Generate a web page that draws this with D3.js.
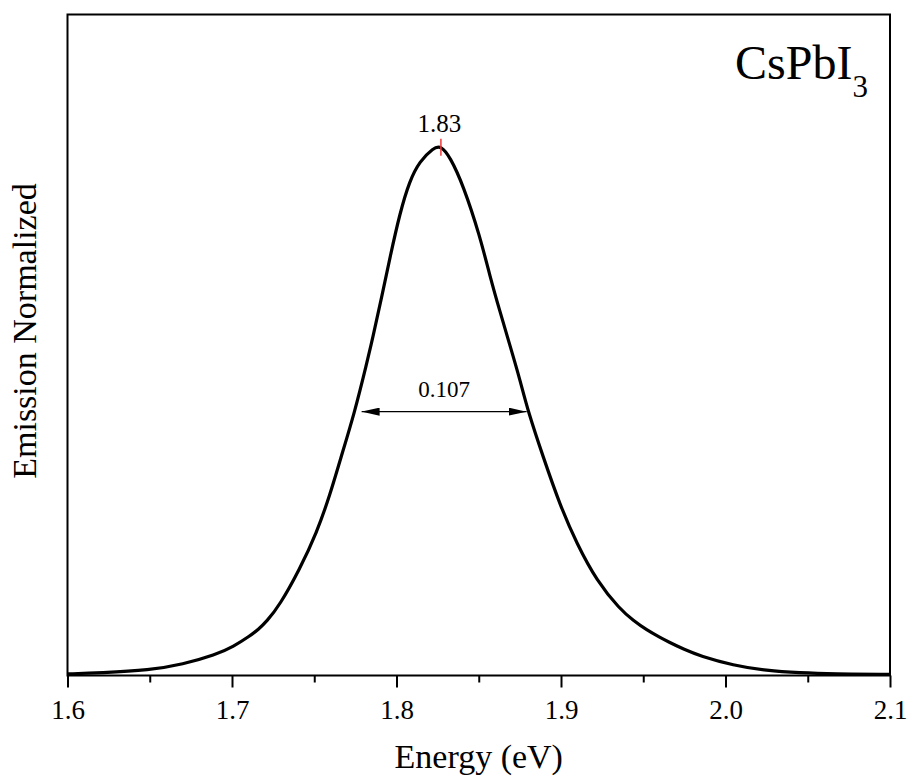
<!DOCTYPE html>
<html>
<head>
<meta charset="utf-8">
<script src="https://cdn.jsdelivr.net/npm/d3@7"></script>
<style>
    body { margin: 0; background: #fff; }
    svg text { font-family: "Liberation Serif", "Times New Roman", serif; fill: #000; }
</style>
</head>
<body>
<div id="chart"></div>
<script>
// PL spectrum (energy in eV, normalized emission)
const energy = [1.600, 1.620, 1.650, 1.670, 1.690, 1.701, 1.711, 1.716, 1.721, 1.729,
    1.741, 1.7515, 1.7596, 1.7657, 1.7746, 1.7819, 1.7859, 1.791, 1.796, 1.802,
    1.808, 1.814, 1.8224, 1.827, 1.8325, 1.8406, 1.8508, 1.8568, 1.8629, 1.869,
    1.8751, 1.8801, 1.8892, 1.8994, 1.9095, 1.9217, 1.9359, 1.944, 1.9521, 1.9602,
    1.965, 1.975, 1.9845, 2.0047, 2.025, 2.0453, 2.0655, 2.100];
const emission = [0.003, 0.005, 0.010, 0.021, 0.039, 0.055, 0.075, 0.087, 0.102, 0.133,
    0.200, 0.270, 0.342, 0.407, 0.498, 0.590, 0.643, 0.716, 0.790, 0.874,
    0.936, 0.972, 0.998, 1.002, 0.981, 0.927, 0.830, 0.755, 0.688, 0.624,
    0.559, 0.498, 0.413, 0.322, 0.250, 0.179, 0.125, 0.104, 0.086, 0.072,
    0.064, 0.049, 0.037, 0.019, 0.009, 0.005, 0.003, 0.002];

const xTicks = [1.6, 1.7, 1.8, 1.9, 2.0, 2.1];
const xMinorTicks = [1.65, 1.75, 1.85, 1.95, 2.05];

const peakEnergy = 1.827;
const peakLabel = "1.83";
const fwhm = [1.7788, 1.8791];
const fwhmLabel = "0.107";

const margin = { top: 14.5, right: 18, bottom: 102.5, left: 67.5 };
const width = 908 - margin.left - margin.right;
const height = 778 - margin.top - margin.bottom;

const svg = d3.select("#chart")
    .append("svg")
    .attr("width", 908)
    .attr("height", 778)
    .append("g")
    .attr("transform", `translate(${margin.left}, ${margin.top})`);

const x = d3.scaleLinear().domain([1.6, 2.1]).range([0, width]);
const y = d3.scaleLinear().domain([0, 1.25]).range([height, 0]);

// minor ticks
const minorAxis = svg.append("g")
    .attr("transform", `translate(0, ${height})`)
    .call(d3.axisBottom(x).tickValues(xMinorTicks).tickSize(7).tickFormat(""));
minorAxis.select(".domain").remove();
minorAxis.selectAll("line").attr("stroke", "#000").attr("stroke-width", 2);

// major ticks
const xAxis = svg.append("g")
    .attr("transform", `translate(0, ${height})`)
    .call(d3.axisBottom(x).tickValues(xTicks).tickSize(12).tickFormat(d3.format(".1f")));
xAxis.select(".domain").remove();
xAxis.selectAll("line").attr("stroke", "#000").attr("stroke-width", 2);
xAxis.selectAll("text")
    .attr("y", 43.5)
    .attr("dy", 0)
    .style("font-size", "27px");

// frame
svg.append("rect")
    .attr("width", width)
    .attr("height", height)
    .attr("fill", "none")
    .attr("stroke", "#000")
    .attr("stroke-width", 2);

// axis titles
svg.append("text")
    .attr("x", width / 2)
    .attr("y", 768 - margin.top)
    .attr("text-anchor", "middle")
    .style("font-size", "34px")
    .text("Energy (eV)");

svg.append("text")
    .attr("transform", `translate(${36 - margin.left}, ${331 - margin.top}) rotate(-90)`)
    .attr("text-anchor", "middle")
    .style("font-size", "34px")
    .text("Emission Normalized");

// spectrum
const spectrum = energy.map((e, i) => ({ e: e, v: emission[i] }));
const line = d3.line()
    .x(d => x(d.e))
    .y(d => y(d.v))
    .curve(d3.curveBasis);

svg.append("path")
    .datum(spectrum)
    .attr("d", line)
    .attr("fill", "none")
    .attr("stroke", "#000")
    .attr("stroke-width", 3.2)
    .attr("stroke-linejoin", "round");

// peak marker
svg.append("line")
    .attr("x1", x(peakEnergy)).attr("x2", x(peakEnergy))
    .attr("y1", y(1.015)).attr("y2", y(0.983))
    .attr("stroke", "#f03a3a")
    .attr("stroke-width", 1.5);

svg.append("text")
    .attr("x", x(peakEnergy) - 1.5)
    .attr("y", 131.7 - margin.top)
    .attr("text-anchor", "middle")
    .style("font-size", "25px")
    .text(peakLabel);

// FWHM arrow
const defs = svg.append("defs");
defs.append("marker")
    .attr("id", "arrowHead")
    .attr("viewBox", "0 0 18 8")
    .attr("refX", 18)
    .attr("refY", 4)
    .attr("markerUnits", "userSpaceOnUse")
    .attr("markerWidth", 18)
    .attr("markerHeight", 8)
    .attr("orient", "auto-start-reverse")
    .append("path")
    .attr("d", "M0,0L18,4L0,8Z")
    .attr("fill", "#000");

svg.append("line")
    .attr("x1", x(fwhm[0])).attr("x2", x(fwhm[1]))
    .attr("y1", y(0.499)).attr("y2", y(0.499))
    .attr("stroke", "#000")
    .attr("stroke-width", 1.4)
    .attr("marker-start", "url(#arrowHead)")
    .attr("marker-end", "url(#arrowHead)");

svg.append("text")
    .attr("x", (x(fwhm[0]) + x(fwhm[1])) / 2)
    .attr("y", 396.7 - margin.top)
    .attr("text-anchor", "middle")
    .style("font-size", "23px")
    .text(fwhmLabel);

// sample label
const label = svg.append("text")
    .attr("x", 735 - margin.left)
    .attr("y", 78.5 - margin.top)
    .style("font-size", "48px");
label.append("tspan").text("CsPbI");
label.append("tspan")
    .attr("dy", 18)
    .style("font-size", "31px")
    .text("3");
</script>
</body>
</html>
